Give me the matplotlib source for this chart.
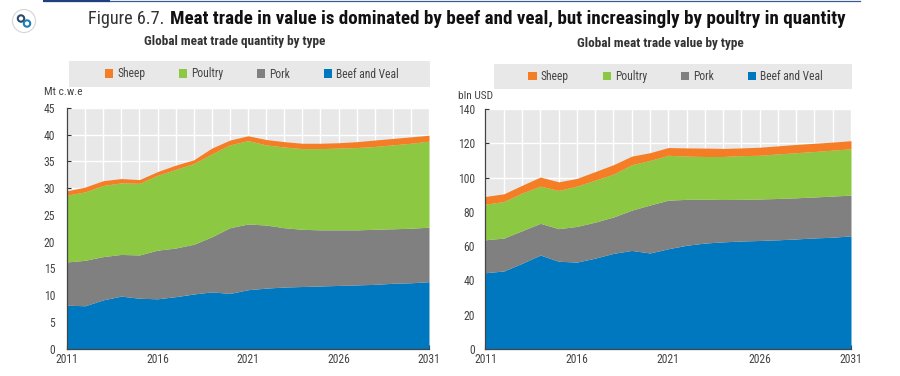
import numpy as np
import matplotlib
matplotlib.use("Agg")
import matplotlib.pyplot as plt
from matplotlib import font_manager as fm
from matplotlib.patches import Rectangle, Circle

W, H = 900, 376

years = list(range(2011, 2032))
labels = ["Beef and Veal", "Pork", "Poultry", "Sheep"]
colors = ["#0078BF", "#808080", "#8CC841", "#F47D26"]

# stacked tops, Mt c.w.e
qty_beef = [8.1, 8.0, 9.1, 9.8, 9.4, 9.3, 9.7, 10.2, 10.6, 10.3, 11.0, 11.3, 11.5, 11.6, 11.7, 11.8, 11.9, 12.0, 12.2, 12.3, 12.5]
qty_pork = [16.2, 16.5, 17.2, 17.6, 17.5, 18.4, 18.8, 19.5, 20.9, 22.6, 23.3, 23.1, 22.6, 22.3, 22.2, 22.2, 22.2, 22.3, 22.4, 22.5, 22.7]
qty_poultry = [28.7, 29.3, 30.5, 31.0, 30.9, 32.4, 33.5, 34.6, 36.4, 38.1, 38.9, 38.1, 37.7, 37.4, 37.4, 37.5, 37.6, 37.8, 38.1, 38.4, 38.8]
qty_sheep = [29.5, 30.2, 31.4, 31.8, 31.6, 33.1, 34.3, 35.3, 37.5, 39.0, 39.8, 39.1, 38.7, 38.4, 38.4, 38.5, 38.7, 39.0, 39.3, 39.6, 39.9]

# stacked tops, bln USD
val_beef = [44.5, 45.5, 50, 54.8, 51.2, 50.7, 53, 55.8, 57.5, 56, 58.5, 60.5, 61.8, 62.5, 63, 63.3, 63.7, 64.2, 64.8, 65.2, 66]
val_pork = [63.7, 64.7, 69, 73.3, 70.2, 71.5, 74, 77, 81, 84, 86.8, 87.3, 87.4, 87.2, 87.3, 87.5, 87.8, 88.2, 88.7, 89.2, 89.8]
val_poultry = [84.5, 86, 91, 95, 92.5, 95, 98.5, 102, 107.5, 110, 113, 112.5, 112.3, 112.3, 112.8, 113, 113.8, 114.5, 115.2, 116, 116.8]
val_sheep = [89, 90.5, 95.5, 100.3, 97.5, 99.5, 103.5, 107.5, 112.5, 114.5, 117.5, 117.3, 117.2, 117, 117.3, 117.7, 118.5, 119.3, 120, 120.7, 121.5]

installed = {f.name for f in fm.fontManager.ttflist}
narrow = [n for n in ["Roboto Condensed", "Archivo Narrow", "Asap Condensed"] if n in installed] + ["Roboto"]

plt.rcParams["font.family"] = narrow + ["DejaVu Sans"]
fig = plt.figure(figsize=(W / 100, H / 100), dpi=100)


def px_rect(x0, y0, x1, y1):
    # pixel box (y down) to figure fractions
    return [x0 / W, 1 - y1 / H, (x1 - x0) / W, (y1 - y0) / H]


def draw_panel(box, band, tops, ymax, ystep, ypad, unit, unit_x, unit_y, title, title_x, title_y):
    ax = fig.add_axes(px_rect(*box))
    ax.set_facecolor("#E8E8E8")
    lower = np.zeros(len(years))
    for top, lab, col in zip(tops, labels, colors):
        ax.fill_between(years, lower, top, color=col, lw=0, label=lab, zorder=3)
        lower = np.array(top)
    ax.set_xlim(2011, 2031)
    ax.set_ylim(0, ymax)
    ax.set_xticks(years)
    ax.set_xticklabels([str(y) if (y - 2011) % 5 == 0 else "" for y in years])
    ax.set_yticks(np.arange(0, ymax + 1, ystep))
    ax.grid(True, color="white", lw=1, zorder=1)
    ax.set_axisbelow(True)
    ax.tick_params(axis="both", direction="in", length=3, width=0.8, color="#333333",
                   labelsize=8.4, labelcolor="#444444")
    ax.tick_params(axis="x", pad=3)
    ax.tick_params(axis="y", pad=ypad)
    for s in ["top", "right"]:
        ax.spines[s].set_visible(False)
    for s in ["left", "bottom"]:
        ax.spines[s].set_color("#444444")
        ax.spines[s].set_linewidth(0.9)
        ax.spines[s].set_zorder(5)
    for t in ax.get_xticklines() + ax.get_yticklines():
        t.set_zorder(6)

    x0, y0, x1, y1 = band
    fig.add_artist(Rectangle((x0 / W, 1 - y1 / H), (x1 - x0) / W, (y1 - y0) / H,
                             transform=fig.transFigure, fc="#E8E8E8", ec="none"))
    handles, labs = ax.get_legend_handles_labels()
    fig.legend(handles[::-1], labs[::-1], ncol=4, frameon=False, fontsize=8.3,
               labelcolor="#444444", loc="center",
               bbox_to_anchor=(((x0 + x1) / 2 + 2.5) / W, 1 - (y0 + y1) / 2 / H),
               handlelength=0.7, handleheight=0.7, handletextpad=0.35, columnspacing=2.95,
               borderpad=0)
    fig.text(unit_x / W, 1 - unit_y / H, unit, fontsize=8.2, color="#444444", ha="left", va="center")
    fig.text(title_x / W, 1 - title_y / H, title, fontsize=9.5, color="#333333", ha="center",
             va="center", fontweight="bold")


draw_panel((67, 108, 429, 348.5), (69, 61, 430, 87),
           [qty_beef, qty_pork, qty_poultry, qty_sheep], 45, 5, 8.5,
           "Mt c.w.e", 44, 92, "Global meat trade quantity by type", 234.5, 41)
draw_panel((485.5, 109, 851, 349), (494, 64, 852, 89),
           [val_beef, val_pork, val_poultry, val_sheep], 140, 20, 7.5,
           "bln USD", 458, 96, "Global meat trade value by type", 660.5, 43)

# main heading, sized so the bold part ends where the original does
size = 14.5
t1 = fig.text(88 / W, 1 - 19 / H, "Figure 6.7.", fontsize=size, color="#333333", va="center")
t2 = fig.text(170 / W, 1 - 19 / H, "Meat trade in value is dominated by beef and veal, but increasingly by poultry in quantity",
              fontsize=size, color="#111111", va="center", fontweight="bold")
r = fig.canvas.get_renderer()
size = size * 675 / t2.get_window_extent(r).width
t1.set_fontsize(size * 0.96)
t2.set_fontsize(size)

# rule along the top edge
fig.add_artist(plt.Line2D([44 / W, 860 / W], [1 - 1 / H, 1 - 1 / H], color="#3B5A9A", lw=0.9))
fig.add_artist(plt.Line2D([44 / W, 109 / W], [1 - 0.5 / H, 1 - 0.5 / H], color="#1F3F80", lw=1.5))

# link icon
icon = fig.add_axes(px_rect(11, 8, 37, 34))
icon.set_xlim(0, 26)
icon.set_ylim(26, 0)
icon.axis("off")
icon.add_patch(Circle((13, 13), 11.5, fc="white", ec="#D5D5D5", lw=0.8))
icon.add_patch(Circle((10, 10.5), 3.2, fc="none", ec="#2A4A6A", lw=1.5))
icon.add_patch(Circle((16, 15.5), 3.2, fc="none", ec="#1B7FB8", lw=1.5))

fig.savefig("out.png", dpi=100)
